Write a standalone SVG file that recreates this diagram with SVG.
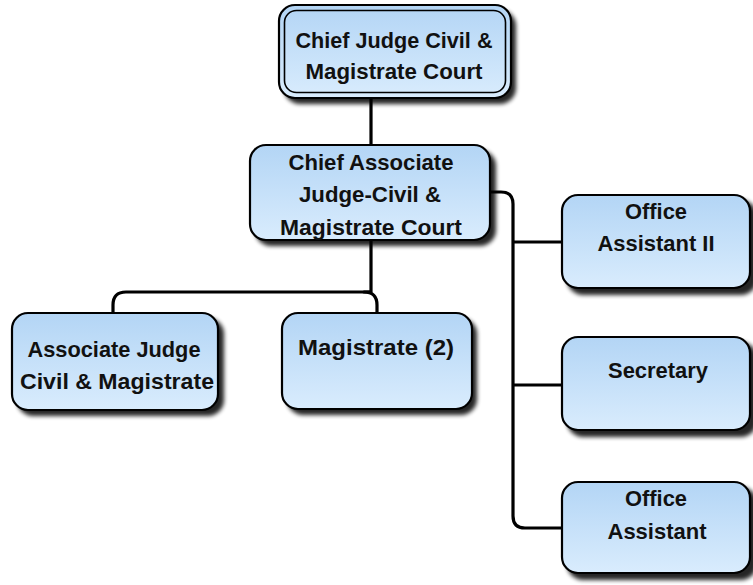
<svg xmlns="http://www.w3.org/2000/svg" width="753" height="585" viewBox="0 0 753 585">
  <style>
    .box { fill: url(#boxFill); stroke: #000; stroke-width: 2.2; }
    .inner { fill: none; stroke: #000; stroke-width: 1.6; }
    .shadow { fill: #000; filter: url(#soft); opacity: 0.85; }
    .lbl { font-family: "Liberation Sans", Arial, sans-serif; font-weight: bold; font-size: 22px; fill: #111; text-anchor: middle; }
    .wire { fill: none; stroke: #000; stroke-width: 3.2; stroke-linejoin: round; }
  </style>
  <defs>
    <linearGradient id="boxFill" x1="0" y1="0" x2="0" y2="1">
      <stop offset="0" stop-color="#b3d5f5"/>
      <stop offset="1" stop-color="#d9ecfd"/>
    </linearGradient>
    <filter id="soft" x="-10%" y="-10%" width="120%" height="130%">
      <feGaussianBlur stdDeviation="2"/>
    </filter>
  </defs>
  <rect width="753" height="585" fill="#fff"/>

  <g id="connectors">
    <path class="wire" d="M371 98 V146"/>
    <path class="wire" d="M371 240 V292 H126 Q113 292 113 305 V314"/>
    <path class="wire" d="M371 292 H364 Q377 292 377 305 V314"/>
    <path class="wire" d="M490 192 H501 Q513 192 513 204 V516 Q513 528 525 528 H563"/>
    <path class="wire" d="M513 242 H563"/>
    <path class="wire" d="M513 385 H563"/>
  </g>

  <g id="chief-judge">
    <rect class="shadow" x="284" y="10" width="232" height="94" rx="16"/>
    <rect class="box" x="279" y="5" width="232" height="93" rx="16"/>
    <rect class="inner" x="284.5" y="10.5" width="221" height="82" rx="12"/>
    <text class="lbl" x="394" y="48" textLength="197" lengthAdjust="spacingAndGlyphs">Chief Judge Civil &amp;</text>
    <text class="lbl" x="394" y="79" textLength="177" lengthAdjust="spacingAndGlyphs">Magistrate Court</text>
  </g>

  <g id="chief-associate">
    <rect class="shadow" x="255" y="150" width="241" height="96" rx="16"/>
    <rect class="box" x="250" y="145" width="240" height="95" rx="16"/>
    <text class="lbl" x="371" y="170" textLength="165" lengthAdjust="spacingAndGlyphs">Chief Associate</text>
    <text class="lbl" x="370" y="202" textLength="142" lengthAdjust="spacingAndGlyphs">Judge-Civil &amp;</text>
    <text class="lbl" x="371" y="235" textLength="182" lengthAdjust="spacingAndGlyphs">Magistrate Court</text>
  </g>

  <g id="associate-judge">
    <rect class="shadow" x="17" y="318" width="207" height="98" rx="16"/>
    <rect class="box" x="12" y="313" width="206" height="97" rx="16"/>
    <text class="lbl" x="114" y="357" textLength="173" lengthAdjust="spacingAndGlyphs">Associate Judge</text>
    <text class="lbl" x="117" y="389" textLength="194" lengthAdjust="spacingAndGlyphs">Civil &amp; Magistrate</text>
  </g>

  <g id="magistrate">
    <rect class="shadow" x="287" y="318" width="190" height="97" rx="16"/>
    <rect class="box" x="282" y="313" width="190" height="96" rx="16"/>
    <text class="lbl" x="376" y="355" textLength="156" lengthAdjust="spacingAndGlyphs">Magistrate (2)</text>
  </g>

  <g id="office-assistant-ii">
    <rect class="shadow" x="567" y="200" width="190" height="95" rx="16"/>
    <rect class="box" x="562" y="195" width="188" height="93" rx="16"/>
    <text class="lbl" x="656" y="219" textLength="62" lengthAdjust="spacingAndGlyphs">Office</text>
    <text class="lbl" x="656" y="251" textLength="117" lengthAdjust="spacingAndGlyphs">Assistant II</text>
  </g>

  <g id="secretary">
    <rect class="shadow" x="567" y="342" width="190" height="95" rx="16"/>
    <rect class="box" x="562" y="337" width="188" height="93" rx="16"/>
    <text class="lbl" x="658" y="378" textLength="100" lengthAdjust="spacingAndGlyphs">Secretary</text>
  </g>

  <g id="office-assistant">
    <rect class="shadow" x="567" y="487" width="190" height="93" rx="16"/>
    <rect class="box" x="562" y="482" width="188" height="91" rx="16"/>
    <text class="lbl" x="656" y="506" textLength="62" lengthAdjust="spacingAndGlyphs">Office</text>
    <text class="lbl" x="657" y="539" textLength="99" lengthAdjust="spacingAndGlyphs">Assistant</text>
  </g>
</svg>
